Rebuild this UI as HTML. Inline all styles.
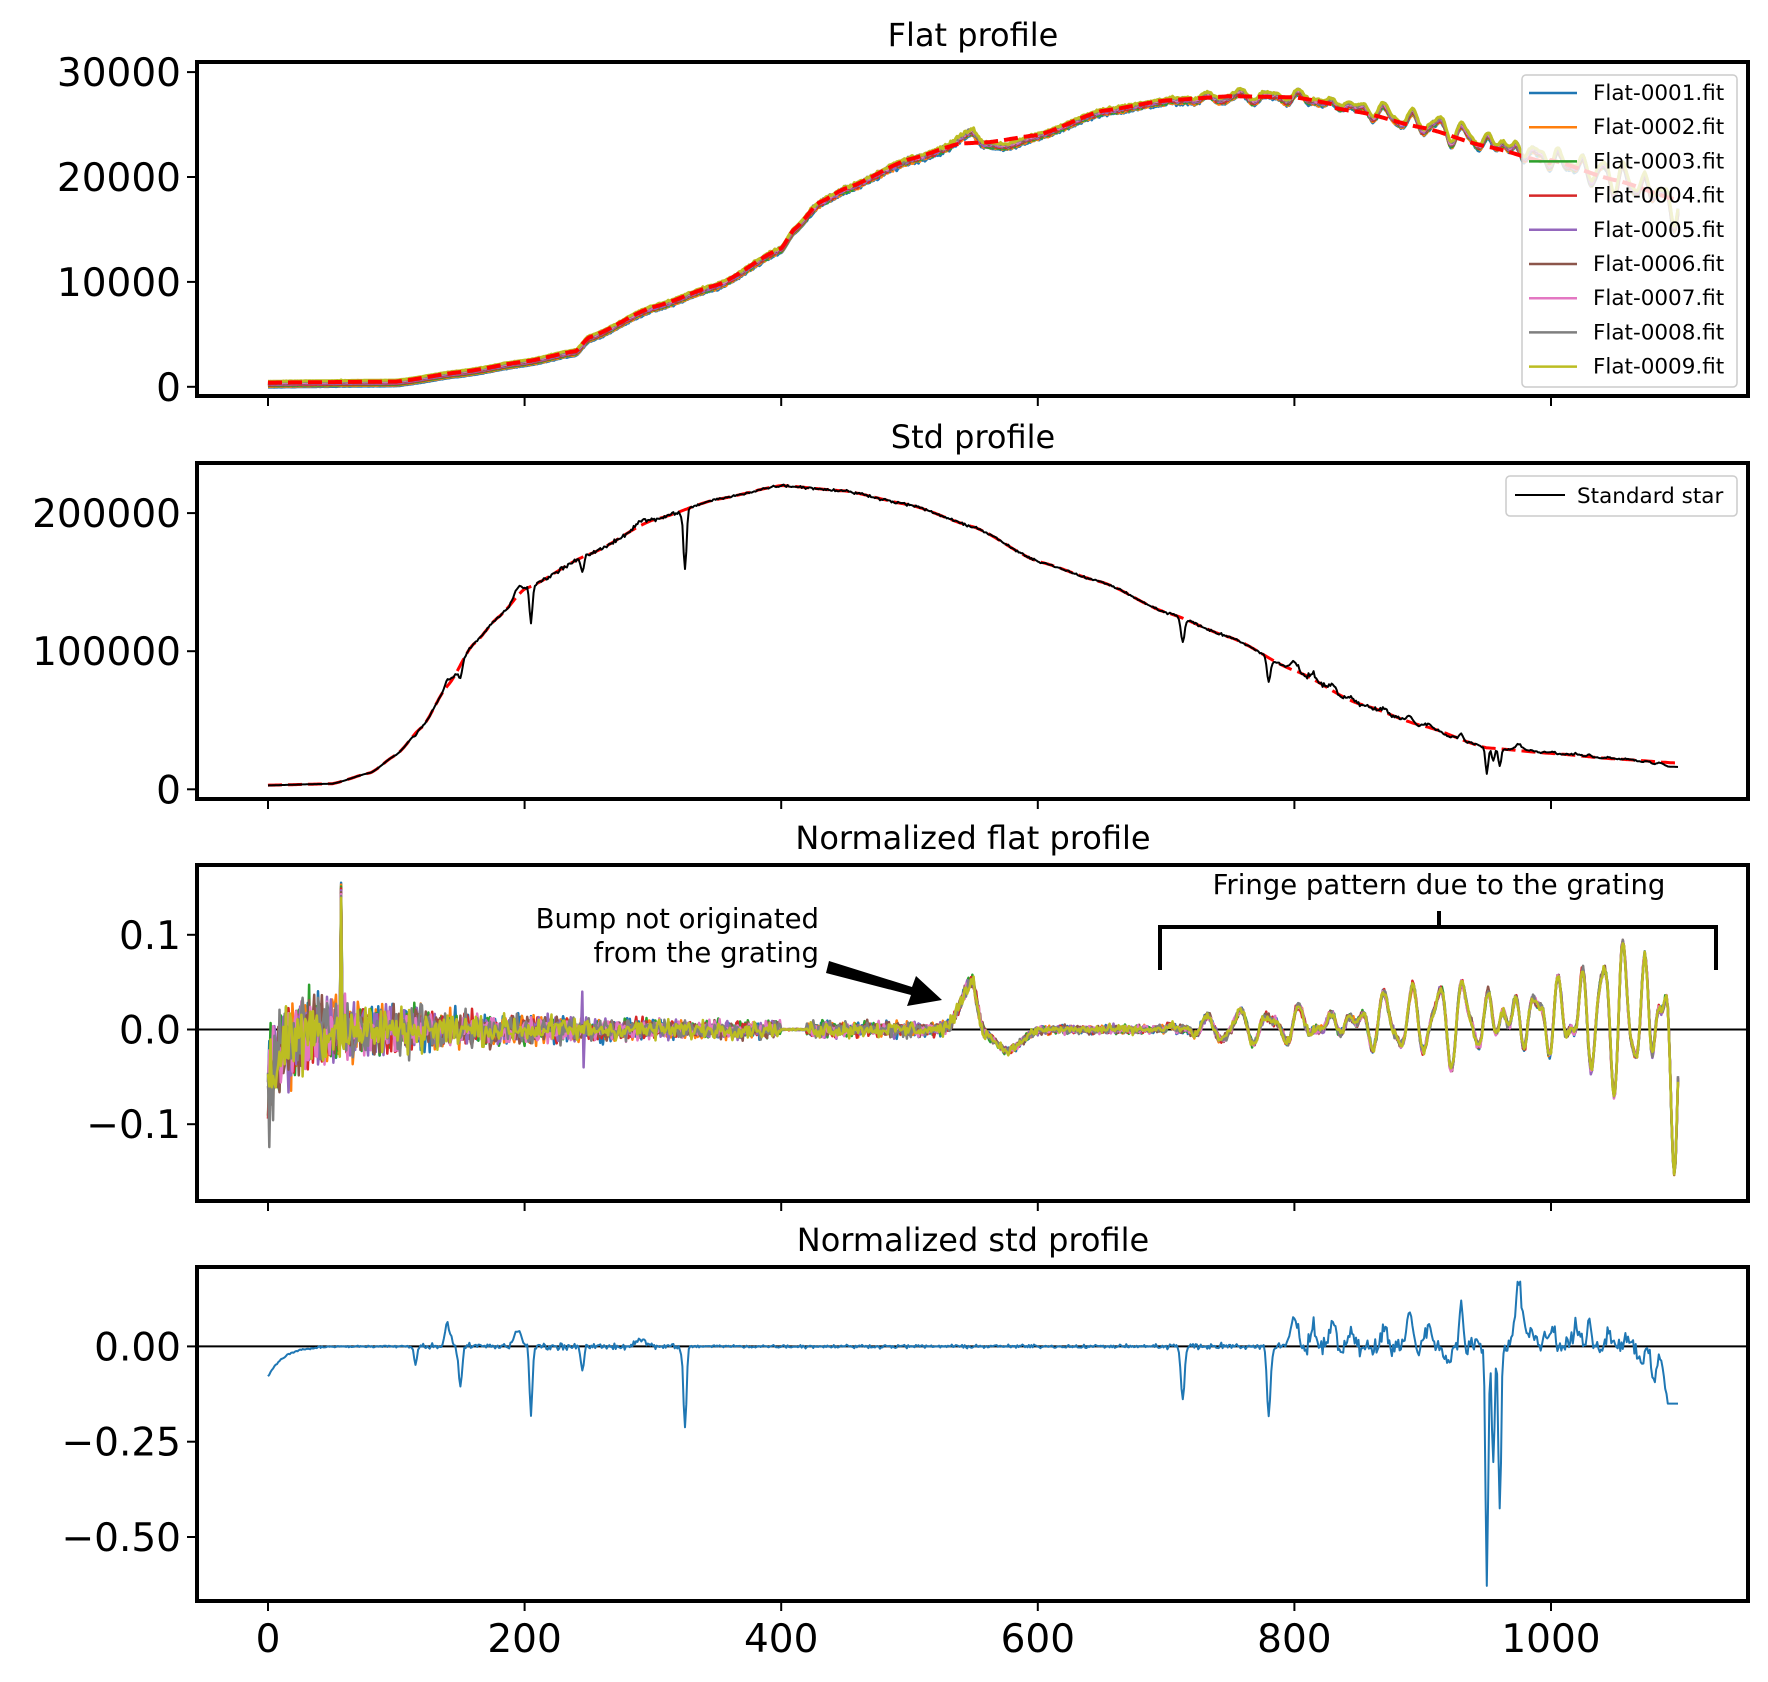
<!DOCTYPE html>
<html><head><meta charset="utf-8"><style>
html,body{margin:0;padding:0;background:#fff}
svg{display:block;font-family:"DejaVu Sans","Liberation Sans",sans-serif}
</style></head><body>
<svg id="s" width="1768" height="1682" viewBox="0 0 1768 1682" xmlns="http://www.w3.org/2000/svg">
<defs>
<clipPath id="c1"><rect x="197" y="62" width="1551" height="334"/></clipPath>
<clipPath id="c2"><rect x="197" y="463" width="1551" height="336"/></clipPath>
<clipPath id="c3"><rect x="197" y="865" width="1551" height="336"/></clipPath>
<clipPath id="c4"><rect x="197" y="1267" width="1551" height="334"/></clipPath>
</defs>
<g id="g1" clip-path="url(#c1)"></g>
<g id="g2" clip-path="url(#c2)"></g>
<g id="g3" clip-path="url(#c3)"></g>
<g id="g4" clip-path="url(#c4)"></g>
<g id="ax" fill="none" stroke="#000" stroke-width="4">
<rect x="197" y="62" width="1551" height="334"/>
<rect x="197" y="463" width="1551" height="336"/>
<rect x="197" y="865" width="1551" height="336"/>
<rect x="197" y="1267" width="1551" height="334"/>
</g>
<g id="tk" stroke="#000" stroke-width="2"></g>
<g id="tl" font-size="39" fill="#000"></g>
<g font-size="32" text-anchor="middle">
<text x="973" y="46">Flat profile</text>
<text x="973" y="448">Std profile</text>
<text x="973" y="849">Normalized flat profile</text>
<text x="973" y="1251">Normalized std profile</text>
</g>
<g>
<rect x="1522" y="75" width="215" height="312" rx="4" fill="#fff" fill-opacity="0.8" stroke="#ccc" stroke-width="1.5"/>
<g id="leg" font-size="21.5"></g>
</g>
<g>
<rect x="1506" y="476" width="231" height="40" rx="4" fill="#fff" fill-opacity="0.8" stroke="#ccc" stroke-width="1.5"/>
<line x1="1515" y1="495" x2="1565" y2="495" stroke="#000" stroke-width="2"/>
<text x="1577" y="503" font-size="21.5">Standard star</text>
</g>
<g font-size="27.5" fill="#000">
<text x="1439" y="894" text-anchor="middle">Fringe pattern due to the grating</text>
<text x="819" y="928" text-anchor="end">Bump not originated</text>
<text x="819" y="962" text-anchor="end">from the grating</text>
</g>
<path d="M1160,970 L1160,927 L1716,927 L1716,970 M1439,927 L1439,911" fill="none" stroke="#000" stroke-width="4"/>
<path d="M829,961 L912,987 L916,976 L942,1000 L907,1006 L911,995 L826,973 Z" fill="#000"/>
</svg>
<script>
var NS="http://www.w3.org/2000/svg";
function el(p,t,a){var e=document.createElementNS(NS,t);for(var k in a)e.setAttribute(k,a[k]);p.appendChild(e);return e;}
function X(x){return 268+x*1.283;}
var seed=12345;function rnd(){seed=(seed*1103515245+12345)%2147483648;return seed/2147483648;}
function gn(){return (rnd()+rnd()+rnd()-1.5)/0.7;}
function interp(a,x){for(var i=0;i<a.length-1;i++){if(x<=a[i+1][0]){var t=(x-a[i][0])/(a[i+1][0]-a[i][0]);t=(1-Math.cos(Math.PI*t))/2*0.3+t*0.7;return a[i][1]+t*(a[i+1][1]-a[i][1]);}}return a[a.length-1][1];}
function G(x,c,a,w){var d=(x-c)/w;return a*Math.exp(-d*d);}
var N=1100;
var P=[{y0:386.8,k:0.01049},{y0:789.3,k:0.001381},{y0:1029.5,k:947},{y0:1346.4,k:381.2}];
function line(g,pi,arr,col,w,dash){var s="";for(var i=0;i<arr.length;i++){s+=X(i).toFixed(1)+","+(P[pi].y0-arr[i]*P[pi].k).toFixed(1)+" ";}
var a={points:s,fill:"none",stroke:col,"stroke-width":w,"stroke-linejoin":"round"};if(dash)a["stroke-dasharray"]=dash;el(document.getElementById(g),"polyline",a);}
var cols=["#1f77b4","#ff7f0e","#2ca02c","#d62728","#9467bd","#8c564b","#e377c2","#7f7f7f","#bcbd22"];
var fA=[[0,400],[100,500],[150,1400],[200,2400],[240,3400],[250,4700],[300,7600],[350,9700],[400,13200],[410,15000],[430,17600],[450,18900],[500,21700],[540,23200],[560,23300],[600,24000],[650,26300],[700,27300],[750,27700],[800,27600],[850,26500],[900,25000],[950,23200],[1000,21600],[1050,19700],[1099,17800]];
var fr=[],ph=0;
for(var x=0;x<N;x++){var v=0;
 v+=-0.06*Math.exp(-x/10);
 v+= x<549?G(x,549,0.05,12):G(x,549,0.05,5);
 v+=G(x,577,-0.022,14);
 if(x>700){var u=(x-700)/400;var A=0.008+0.06*Math.pow(u,1.1);var per=26-11*u;ph+=2*Math.PI/per;
  var m=0.65+0.35*Math.sin(x/23)+0.2*Math.sin(x/9.7);
  v+=A*m*Math.sin(ph)+0.3*A*Math.sin(ph*1.7+1)+0.012*u*1.5;}
 v+=G(x,1096,-0.12,4);
 fr.push(v);}
var ns=[];
for(var s=0;s<9;s++){var a=[];for(var x=0;x<N;x++){var amp=0.03*Math.exp(-x/110)+0.005;if(x>=400&&x<420)amp=0.0005;if(x>560)amp=0.003;var v=fr[x]+amp*gn();if(x==57)v=0.155-s*0.002;if(x==245&&s==4)v=0.04;if(x==246&&s==4)v=-0.04;a.push(v);}ns.push(a);}
for(var s=0;s<9;s++){var a=[];for(var x=0;x<N;x++){var f=interp(fA,x);a.push(f*(1+ns[s][x])+(s-6)*70);}line("g1",0,a,cols[s],3);}
var fit=[];for(var x=0;x<N;x++)fit.push(interp(fA,x)+ (x>830&&x<1000?-300:0));
line("g1",0,fit,"#ff0000",4,"14,6");
el(document.getElementById("g3"),"line",{x1:197,x2:1748,y1:1029.5,y2:1029.5,stroke:"#000","stroke-width":2});
for(var s=0;s<9;s++)line("g3",2,ns[s],cols[s],2.5);
var sA=[[0,3000],[50,4000],[80,12000],[100,25000],[120,45000],[140,75000],[160,105000],[180,125000],[200,145000],[250,170000],[300,195000],[350,210000],[400,220000],[450,216000],[500,206000],[550,190000],[600,165000],[650,150000],[700,128000],[750,110000],[800,86000],[850,62000],[900,46000],[950,30000],[1000,26000],[1050,22000],[1099,19000]];
var feats=[[115,-0.05,1.5],[140,0.06,3],[150,-0.1,2],[195,0.04,4],[205,-0.19,1.5],[245,-0.06,2],[290,0.02,5],[325,-0.21,1.8],[713,-0.14,2],[780,-0.18,2],[800,0.08,4],[815,0.05,3],[830,0.06,3],[845,0.04,3],[870,0.05,3],[890,0.09,3],[905,0.06,3],[920,-0.04,3],[930,0.1,2],[950,-0.63,1.5],[955,-0.32,1.5],[960,-0.44,1.5],[975,0.17,4],[985,0.05,3],[1000,0.04,4],[1020,0.06,3],[1030,0.08,2],[1045,0.04,3],[1060,0.03,3],[1070,-0.05,3],[1080,-0.1,3],[1092,-0.15,5]];
var n4=[],std=[],sfit=[];
for(var x=0;x<N;x++){var v=-0.08*Math.exp(-x/12);for(var j=0;j<feats.length;j++)v+=G(x,feats[j][0],feats[j][1],feats[j][2]);
 var am=x<120?0.002:(x<330?0.006:(x<700?0.003:(x<800?0.006:0.018)));v+=am*gn();if(x>1090)v=-0.15;
 n4.push(v);var f=interp(sA,x);sfit.push(f);std.push(f*(1+v));}
line("g2",1,sfit,"#ff0000",3,"14,6");
line("g2",1,std,"#000",2);
el(document.getElementById("g4"),"line",{x1:197,x2:1748,y1:1346.4,y2:1346.4,stroke:"#000","stroke-width":2});
line("g4",3,n4,"#1f77b4",2);
var tk=document.getElementById("tk"),tl=document.getElementById("tl");
var bots=[396,799,1201,1601];
for(var p=0;p<4;p++)for(var v=0;v<=1000;v+=200)el(tk,"line",{x1:X(v),x2:X(v),y1:bots[p]+2,y2:bots[p]+10});
for(var v=0;v<=1000;v+=200){var t=el(tl,"text",{x:X(v),y:1652,"text-anchor":"middle"});t.textContent=v;}
function yt(pi,vals,labs){for(var i=0;i<vals.length;i++){var y=P[pi].y0-vals[i]*P[pi].k;el(tk,"line",{x1:187,x2:195,y1:y,y2:y});var t=el(tl,"text",{x:181,y:y+14,"text-anchor":"end"});t.textContent=labs[i];}}
yt(0,[0,10000,20000,30000],["0","10000","20000","30000"]);
yt(1,[0,100000,200000],["0","100000","200000"]);
yt(2,[-0.1,0,0.1],["\u22120.1","0.0","0.1"]);
yt(3,[-0.5,-0.25,0],["\u22120.50","\u22120.25","0.00"]);
var lg=document.getElementById("leg");
for(var i=0;i<9;i++){var y=93+i*34.2;el(lg,"line",{x1:1529,x2:1577,y1:y,y2:y,stroke:cols[i],"stroke-width":2.5});var t=el(lg,"text",{x:1593,y:y+7});t.textContent="Flat-000"+(i+1)+".fit";}
</script>
</body></html>
